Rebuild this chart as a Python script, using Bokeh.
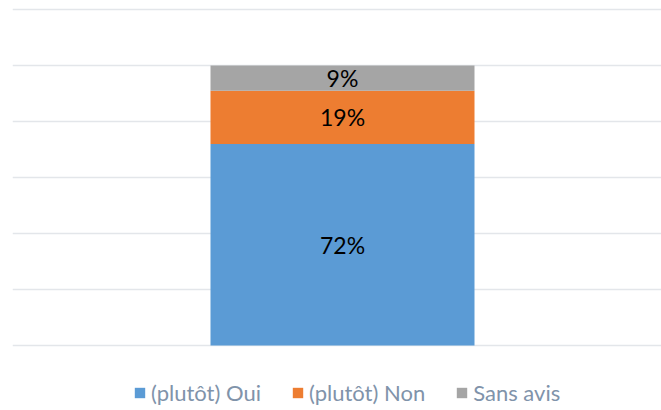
from bokeh.plotting import figure
from bokeh.models import ColumnDataSource, Range1d, FixedTicker, Legend, LegendItem
from bokeh.core.properties import value
from bokeh.embed import file_html
from bokeh.resources import INLINE

categories = ["(plutôt) Oui", "(plutôt) Non", "Sans avis"]
values = [72, 19, 9]
colors = ["#5B9BD5", "#ED7D31", "#A5A5A5"]
labels = ["72%", "19%", "9%"]
y_ticks = [0, 20, 40, 60, 80, 100, 120]

p = figure(width=661, height=410, output_backend="svg", toolbar_location=None,
           x_range=Range1d(-0.25, 2.2083), y_range=Range1d(-23.21, 123.21),
           min_border_left=12, min_border_right=0, min_border_top=0, min_border_bottom=0)
p.outline_line_color = None
p.xaxis.visible = False
p.yaxis.visible = False
p.xgrid.grid_line_color = None
p.ygrid.ticker = FixedTicker(ticks=y_ticks)
p.ygrid.grid_line_color = "#E3E6EA"
p.ygrid.grid_line_width = 1.5

bottoms = []
tops = []
acc = 0
for v in values:
    bottoms.append(acc)
    acc += v
    tops.append(acc)

items = []
for cat, b, t, c in zip(categories, bottoms, tops, colors):
    src = ColumnDataSource(dict(x=[1], bottom=[b], top=[t]))
    r = p.vbar(x="x", bottom="bottom", top="top", width=1.0, source=src,
               fill_color=c, line_color=None)
    items.append(LegendItem(label=cat, renderers=[r]))

lab_src = ColumnDataSource(dict(x=[1] * len(values),
                                y=[(b + t) / 2 for b, t in zip(bottoms, tops)],
                                text=labels))
p.text(x="x", y="y", text="text", source=lab_src, text_align="center",
       text_baseline="middle", text_font=value("Lato"), text_font_size="23px",
       text_color="#000000")

legend = Legend(items=items, orientation="horizontal", location=(121, 4))
legend.border_line_color = None
legend.background_fill_alpha = 0
legend.padding = 0
legend.margin = 0
legend.spacing = 30
legend.glyph_width = 13
legend.glyph_height = 13
legend.label_height = 20
legend.label_standoff = 5
legend.label_text_font = "Lato"
legend.label_text_font_size = "22px"
legend.label_text_color = "#8093AA"
p.add_layout(legend, "center")

open("out.html", "w").write(file_html(p, INLINE))
